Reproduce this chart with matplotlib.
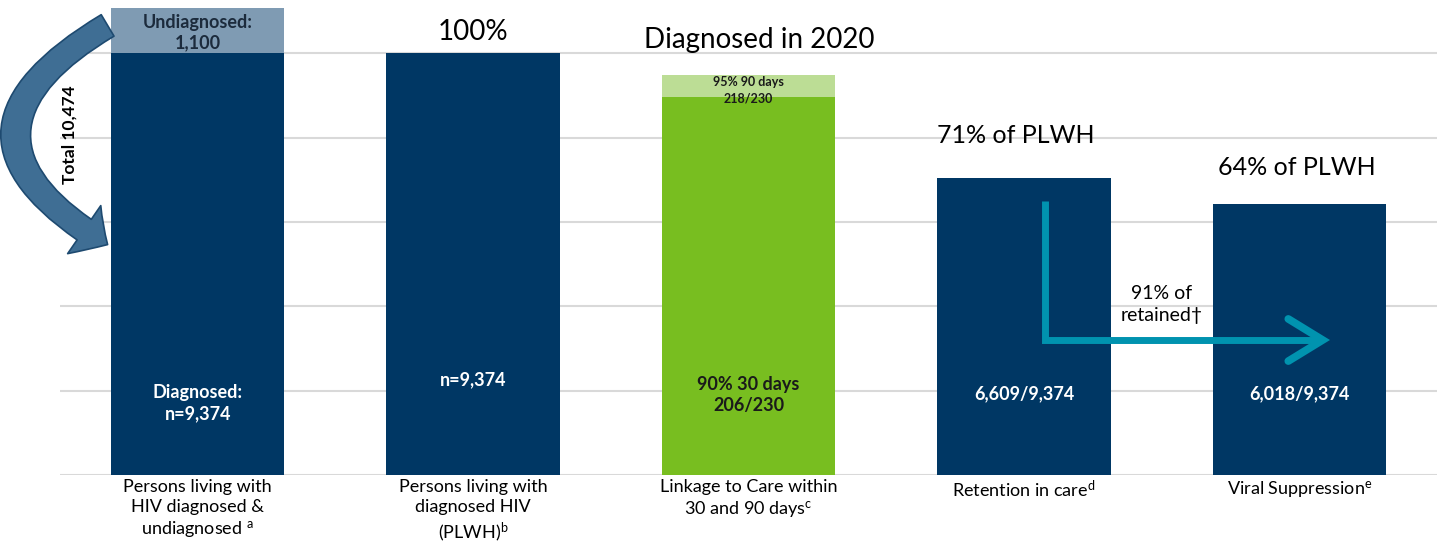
import matplotlib.pyplot as plt
import numpy as np
from matplotlib.patches import FancyArrowPatch

plt.rcParams['font.family'] = ['Lato', 'DejaVu Sans']
plt.rcParams['mathtext.default'] = 'regular'

# data
categories = ['Persons living with\nHIV diagnosed &\nundiagnosed $^{a}$',
              'Persons living with\ndiagnosed HIV\n(PLWH)$^{b}$',
              'Linkage to Care within\n30 and 90 days$^{c}$',
              'Retention in care$^{d}$',
              'Viral Suppression$^{e}$']
numer = [9374, 9374, 206, 6609, 6018]
denom = [9374, 9374, 230, 9374, 9374]
extra = [1100, 0, 12, 0, 0]          # undiagnosed / linked between 30 and 90 days
inner_labels = ['Diagnosed:\nn=9,374', 'n=9,374', '90% 30 days\n206/230',
                '6,609/9,374', '6,018/9,374']
top_labels = ['', '100%', 'Diagnosed in 2020', '71% of PLWH', '64% of PLWH']

navy = '#003764'
green = '#78BE20'
light_green = '#BCDD95'
slate = '#7F9BB3'
teal = '#0093AF'

base = np.array(numer) / np.array(denom) * 100
top = np.array(extra) / np.array(denom) * 100
x = np.arange(len(categories))

fig = plt.figure(figsize=(14.4, 5.5), dpi=100)
ax = fig.add_axes([60 / 1440, 75 / 550, 1377 / 1440, 467 / 550])

colors = [navy, navy, green, navy, navy]
top_colors = [slate, navy, light_green, navy, navy]
ax.bar(x, base, width=0.63, color=colors, zorder=2)
ax.bar(x, top, bottom=base, width=0.63, color=top_colors, zorder=2)

ax.set_xlim(-0.5, 4.5)
ax.set_ylim(0, 110.7)
ax.set_yticks([0, 20, 40, 60, 80, 100])
ax.yaxis.grid(True, color='#D9D9D9', lw=1.5, zorder=0)
ax.set_yticklabels([])
ax.tick_params(length=0)
for s in ax.spines.values():
    s.set_visible(False)
ax.set_xticks(x)
ax.set_xticklabels(categories, fontsize=13, linespacing=1.3, va='top')
ax.tick_params(axis='x', pad=3)

# labels inside bars
ax.text(0, 17, inner_labels[0], ha='center', va='center', color='white',
        fontsize=13, fontweight='bold', linespacing=1.3)
ax.text(1, 22.5, inner_labels[1], ha='center', va='center', color='white',
        fontsize=13, fontweight='bold')
ax.text(2, 19, inner_labels[2], ha='center', va='center', color='#1A1A1A',
        fontsize=13, fontweight='bold', linespacing=1.3)
ax.text(3, 19.2, inner_labels[3], ha='center', va='center', color='white',
        fontsize=13, fontweight='bold')
ax.text(4, 19.2, inner_labels[4], ha='center', va='center', color='white',
        fontsize=13, fontweight='bold')
ax.text(0, 104.8, 'Undiagnosed:\n1,100', ha='center', va='center', color='#1C2B3C',
        fontsize=13, fontweight='bold', linespacing=1.2)
ax.text(2, 91.2, '95% 90 days\n218/230', ha='center', va='center', color='#1A1A1A',
        fontsize=9, fontweight='bold', linespacing=1.4)

# labels above bars
ax.text(1, 105, top_labels[1], ha='center', va='center', fontsize=20)
ax.text(2.04, 103, top_labels[2], ha='center', va='center', fontsize=20)
ax.text(2.97, 80.5, top_labels[3], ha='center', va='center', fontsize=18)
ax.text(3.99, 73, top_labels[4], ha='center', va='center', fontsize=18)

# teal elbow arrow between retention and suppression
ax.plot([3.077, 3.077, 4.08], [65, 32, 32], color=teal, lw=5,
        solid_joinstyle='miter', solid_capstyle='butt', zorder=3)
ax.plot([3.96, 4.085, 3.96], [37, 32, 27], color=teal, lw=5.5,
        solid_capstyle='round', solid_joinstyle='miter', zorder=3)
ax.text(3.5, 40.5, '91% of\nretained†', ha='center', va='center',
        fontsize=14, linespacing=1.35)

# curved "total" arrow on the left
arr = FancyArrowPatch((110 / 1440, 526 / 550), (110 / 1440, 304 / 550),
                      transform=fig.transFigure, connectionstyle='arc3,rad=0.85',
                      arrowstyle='simple,head_length=20,head_width=42,tail_width=18',
                      facecolor='#3F6E94', edgecolor='#1E4A70', lw=1.2, zorder=5)
fig.patches.append(arr)
fig.text(70 / 1440, 1 - 135 / 550, 'Total 10,474', rotation=90, ha='center',
         va='center', fontsize=12.5, fontweight='bold')

fig.savefig('out.png', dpi=100)
